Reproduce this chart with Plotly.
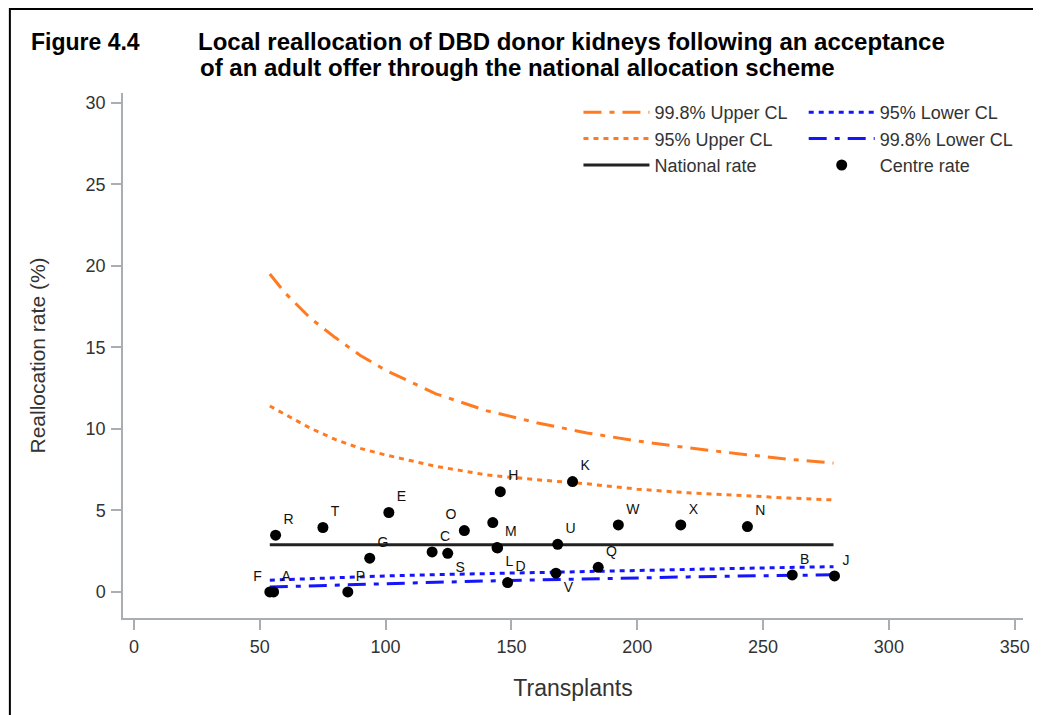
import plotly.graph_objects as go

# ---- data ----
cl_transplants = [54, 60, 70, 80, 90, 100, 120, 140, 160, 180, 200, 220, 240, 260, 278]
upper_998 = [19.5, 18.35, 16.8, 15.6, 14.5, 13.6, 12.15, 11.12, 10.38, 9.75, 9.26, 8.84, 8.48, 8.14, 7.9]
upper_95 = [11.4, 10.9, 10.05, 9.35, 8.8, 8.4, 7.7, 7.18, 6.88, 6.63, 6.3, 6.08, 5.9, 5.76, 5.64]
lower_95 = [0.72, 0.76, 0.82, 0.88, 0.93, 0.98, 1.06, 1.13, 1.19, 1.26, 1.32, 1.38, 1.44, 1.5, 1.55]
lower_998 = [0.3, 0.33, 0.38, 0.43, 0.47, 0.51, 0.59, 0.67, 0.74, 0.81, 0.87, 0.92, 0.97, 1.01, 1.05]
national_x = [54, 278]
national_rate = [2.9, 2.9]

centres = ["F", "A", "P", "R", "T", "E", "G", "C", "S", "O", "", "H", "K", "M", "L",
           "D", "U", "V", "Q", "W", "X", "N", "B", "J"]
transplants = [54, 55.5, 85, 56.3, 75.1, 101.3, 93.7, 118.5, 124.7, 131.3, 142.6, 145.6,
               174.3, 144.3, 144.5, 148.5, 168.4, 167.7, 184.5, 192.5, 217.3, 243.8, 261.6, 278.4]
rates = [0, 0, 0, 3.48, 3.95, 4.87, 2.07, 2.45, 2.37, 3.76, 4.25, 6.15,
         6.77, 2.72, 2.70, 0.57, 2.92, 1.15, 1.51, 4.11, 4.11, 4.01, 1.04, 0.98]
label_pos = ["top left", "top right", "top right", "top right", "top right", "top right",
             "top right", "top right", "bottom right", "top left", "top right", "top right",
             "top right", "top right", "bottom right", "top right", "top right", "bottom right",
             "top right", "top right", "top right", "top right", "top right", "top right"]

ORANGE = "#FF7B22"
BLUE = "#1414FF"
FONT = "Liberation Sans, Arial, sans-serif"
TXT = "#333333"
AX = "#A8AEB3"

# plot area on screen (page body has an 8px margin)
PL, PR, PT, PB = 123, 1030, 93, 618
PW, PH = PR - PL, PB - PT


def px(x):
    return (x - PL) / PW


def py(y):
    return (PB - y) / PH


fig = go.Figure()
fig.add_trace(go.Scatter(x=cl_transplants, y=upper_998, mode="lines", name="99.8% Upper CL",
                         line=dict(color=ORANGE, width=3, dash="18px,8px,5px,8px"),
                         legend="legend"))
fig.add_trace(go.Scatter(x=cl_transplants, y=upper_95, mode="lines", name="95% Upper CL",
                         line=dict(color=ORANGE, width=3, dash="5px,5px"),
                         legend="legend"))
fig.add_trace(go.Scatter(x=national_x, y=national_rate, mode="lines", name="National rate",
                         line=dict(color="#222222", width=3),
                         legend="legend"))
fig.add_trace(go.Scatter(x=cl_transplants, y=lower_95, mode="lines", name="95% Lower CL",
                         line=dict(color=BLUE, width=3, dash="5px,5px"),
                         legend="legend2"))
fig.add_trace(go.Scatter(x=cl_transplants, y=lower_998, mode="lines", name="99.8% Lower CL",
                         line=dict(color=BLUE, width=3, dash="18px,8px,5px,8px"),
                         legend="legend2"))
fig.add_trace(go.Scatter(x=transplants, y=rates, mode="markers+text", name="Centre rate",
                         text=centres, textposition=label_pos,
                         textfont=dict(family=FONT, size=14, color="#111111"),
                         marker=dict(color="black", size=11),
                         legend="legend2"))

legend_common = dict(font=dict(family=FONT, size=18, color=TXT), bgcolor="rgba(0,0,0,0)",
                     xanchor="left", yanchor="top", itemwidth=66, orientation="v")
fig.update_layout(
    width=1033, height=707,
    margin=dict(l=PL - 8, r=1033 - (PR - 8), t=PT - 8, b=707 - (PB - 8)),
    paper_bgcolor="white", plot_bgcolor="white",
    showlegend=True,
    legend=dict(x=px(582), y=py(94), **legend_common),
    legend2=dict(x=px(809), y=py(94), **legend_common),
    xaxis=dict(range=[-4.34, 353.3], tickvals=[0, 50, 100, 150, 200, 250, 300, 350],
               showline=True, linecolor=AX, linewidth=1.5, ticks="outside", ticklen=10,
               tickcolor=AX, tickwidth=1.5, showgrid=False, zeroline=False,
               tickfont=dict(family=FONT, size=18, color=TXT), ticklabelstandoff=2,
               title=dict(text="Transplants", font=dict(family=FONT, size=23, color=TXT),
                          standoff=24)),
    yaxis=dict(range=[-1.6, 30.6], tickvals=[0, 5, 10, 15, 20, 25, 30],
               showline=True, linecolor=AX, linewidth=1.5, ticks="outside", ticklen=10,
               tickcolor=AX, tickwidth=1.5, showgrid=False, zeroline=False,
               tickfont=dict(family=FONT, size=18, color=TXT), ticklabelstandoff=2,
               title=dict(text="Reallocation rate (%)", font=dict(family=FONT, size=21, color=TXT),
                          standoff=34)),
    annotations=[
        dict(text="<b>Figure 4.4</b>", xref="paper", yref="paper",
             x=px(28), y=py(42), xanchor="left", yanchor="middle",
             showarrow=False, font=dict(family=FONT, size=23, color="black")),
        dict(text="<b>Local reallocation of DBD donor kidneys following an acceptance</b>",
             xref="paper", yref="paper",
             x=px(197), y=py(42), xanchor="left", yanchor="middle",
             showarrow=False, font=dict(family=FONT, size=24, color="black")),
        dict(text="<b>of an adult offer through the national allocation scheme</b>",
             xref="paper", yref="paper",
             x=px(199), y=py(68), xanchor="left", yanchor="middle",
             showarrow=False, font=dict(family=FONT, size=24, color="black")),
    ],
    shapes=[dict(type="rect", xref="paper", yref="paper",
                 x0=px(9), x1=px(1060), y0=py(740), y1=py(9),
                 line=dict(color="black", width=2), fillcolor="rgba(0,0,0,0)")],
)

fig.write_html("out.html")
